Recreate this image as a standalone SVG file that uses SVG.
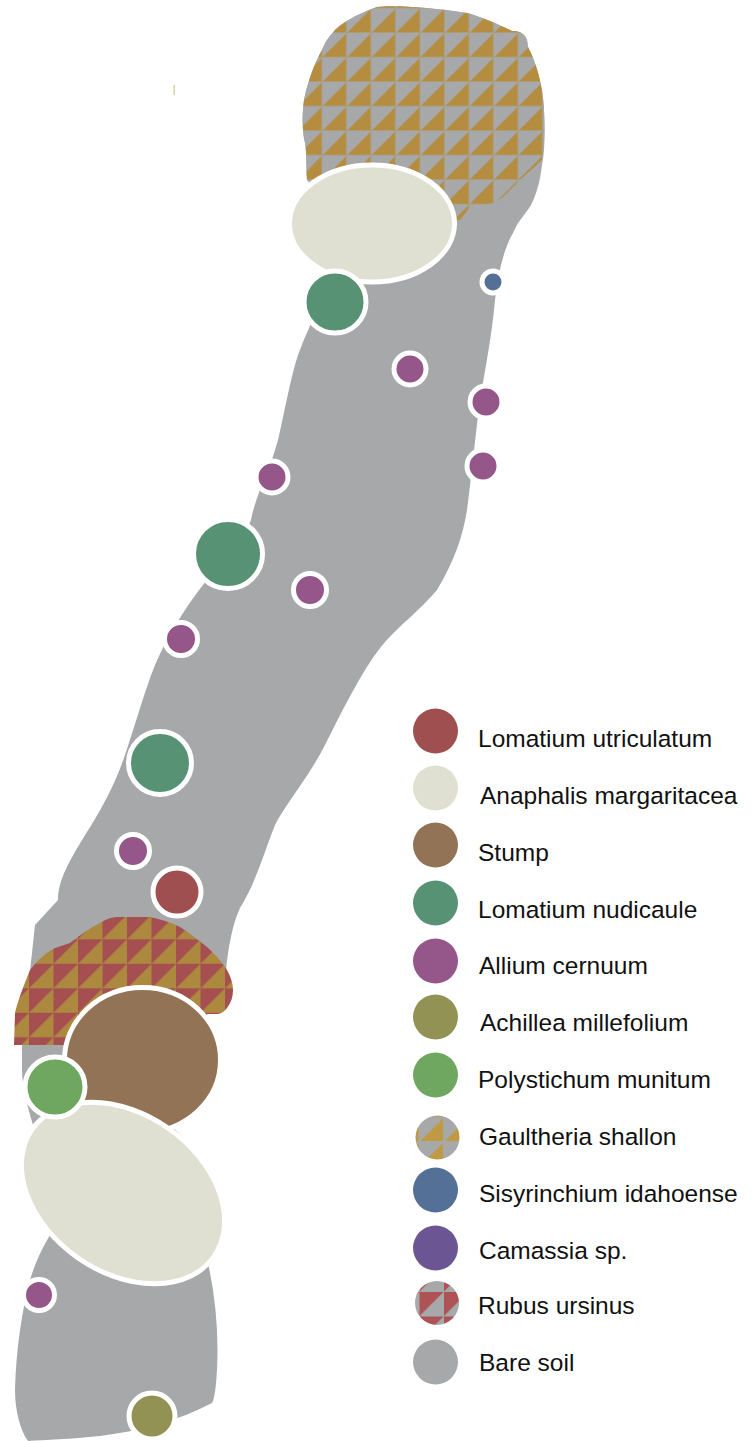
<svg xmlns="http://www.w3.org/2000/svg" width="754" height="1441" viewBox="0 0 754 1441">
<style>
.w{stroke:#fff;stroke-width:5}
.t{font-family:"Liberation Sans",Arial,sans-serif;font-size:24.5px;fill:#111}
.soil{fill:#a6a8aa}.pearly{fill:#dfe0d1}.stump{fill:#937355}.nud{fill:#589274}.all{fill:#955689}.ach{fill:#919254}.pol{fill:#6fa660}.sis{fill:#547096}.cam{fill:#6b5593}.lom{fill:#a04f50}
</style>
<defs>
<pattern id="pg" width="24.5" height="24.5" patternUnits="userSpaceOnUse" x="322.3" y="33">
<rect width="24.5" height="24.5" fill="#a6a8aa"/><path d="M1 23.500L23.500 1V23.500Z" fill="#b48d40"/><path d="M24 0V24.500M0 24H24.500" stroke="#ad9c76" stroke-width="1"/>
</pattern>
<pattern id="pr" width="24.5" height="24.5" patternUnits="userSpaceOnUse" x="29" y="939.3">
<rect width="24.5" height="24.5" fill="#a54f50"/><path d="M0 24.500L24.500 0V24.500Z" fill="#ad883f"/>
</pattern>
<pattern id="lg" width="24.5" height="24.5" patternUnits="userSpaceOnUse" x="444" y="1142">
<rect width="24.5" height="24.5" fill="#a6a8aa"/><path d="M1 23.500L23.500 1V23.500Z" fill="#c09a42"/>
</pattern>
<pattern id="lr" width="24.5" height="24.5" patternUnits="userSpaceOnUse" x="444" y="1292">
<rect width="24.5" height="24.5" fill="#a6a8aa"/><path d="M0 0H24L0 24Z" fill="#ae5355"/>
</pattern>
</defs>
<g id="soil"><path class="soil" d="M377 7C392 5 430 7 467 13C482 17 500 25 512 31C518 31 524 32 527 40L528 47C536 62 543 85 544 110C545 130 545 150 542 165C540 180 538 190 532 203C527 213 518 220 513 233C503 250 498 275 495 300C492 335 485 370 480 400C476 430 470 490 467 510C463 535 455 560 437 590C420 610 400 625 385 642C365 665 345 705 325 745C310 775 285 805 275 825C265 850 255 885 240 908C232 925 228 950 226 970L205 1020L170 1125L182 1136L205 1250C215 1290 219 1330 217 1370C216 1385 215 1398 212 1403C180 1420 140 1431 100 1436C70 1439 45 1440 28 1441C20 1430 15 1410 15 1390C16 1350 22 1310 30 1280C36 1260 44 1245 50 1235L33 1125C27 1105 22 1085 22 1070L22 1045L35 925L58 900C58 880 70 860 85 835C100 812 115 785 125 755C135 725 145 690 155 665C170 630 190 600 215 570C235 545 250 530 252 515C258 490 270 470 278 440C285 410 290 380 298 355C305 335 315 315 325 295L345 265L320 190L307 180C306 165 307 155 305 143C302 130 302 115 304 100C308 80 316 60 322 50C326 40 330 36 335 30C345 20 365 11 377 7Z"/></g>
<g id="gaultheria"><path fill="url(#pg)" d="M377 7C392 5 430 7 467 13C482 17 500 25 512 31C518 31 524 32 527 40L528 47C536 62 543 85 544 110C545 130 544 150 542 160L520 180L503 197L494 203L470 207L460 220L340 220L307 180C306 165 307 155 305 143C302 130 302 115 304 100C308 80 316 60 322 50C326 40 330 36 335 30C345 20 365 11 377 7Z"/></g>
<g id="rubus"><path fill="url(#pr)" d="M14 1045L15 1013C18 1000 24 985 30 970C38 960 45 953 55 948L70 943C80 935 90 928 100 923C106 919 112 917 117 917L150 917C160 919 170 922 180 927C190 933 198 940 207 947C215 954 222 962 227 970C231 977 233 984 233 990C233 997 231 1003 227 1008C224 1012 220 1014 217 1014L207 1014L120 1045Z"/></g>
<g id="stump"><ellipse class="stump w" cx="142.500" cy="1060" rx="78" ry="72.500"/></g>
<g id="anaphalis-top"><ellipse class="pearly w" cx="372" cy="223.500" rx="82.500" ry="58.500"/></g>
<g id="anaphalis-bottom"><ellipse class="pearly w" cx="123" cy="1193" rx="111" ry="79" transform="rotate(35 123 1193)"/></g>
<g id="polystichum"><circle class="pol w" cx="55" cy="1087" r="30"/></g>
<g id="nud1"><circle class="nud w" cx="335" cy="302" r="31"/></g>
<g id="nud2"><circle class="nud w" cx="228" cy="554" r="34.500"/></g>
<g id="nud3"><circle class="nud w" cx="160" cy="763" r="31.500"/></g>
<g id="sis1"><circle class="sis w" cx="493" cy="282" r="11"/></g>
<g id="all1"><circle class="all w" cx="410" cy="369" r="16"/></g>
<g id="all2"><circle class="all w" cx="486" cy="402" r="16"/></g>
<g id="all3"><circle class="all w" cx="483" cy="466" r="16"/></g>
<g id="all4"><circle class="all w" cx="272" cy="477" r="16"/></g>
<g id="all5"><circle class="all w" cx="310" cy="590" r="16.500"/></g>
<g id="all6"><circle class="all w" cx="181" cy="639" r="16.500"/></g>
<g id="all7"><circle class="all w" cx="133" cy="851" r="16.500"/></g>
<g id="all8"><circle class="all w" cx="39" cy="1295" r="15.500"/></g>
<g id="lom1"><circle class="lom w" cx="177" cy="892" r="24"/></g>
<g id="ach1"><circle class="ach w" cx="152" cy="1416" r="23"/></g>
<g id="speck"><rect x="173.500" y="85" width="1.500" height="10" fill="#d8cfa8"/></g>
<g id="legend">
<circle class="lom" cx="435.500" cy="731" r="22.500"/><text class="t" x="478" y="747">Lomatium utriculatum</text>
<circle class="pearly" cx="435.500" cy="788" r="22.500"/><text class="t" x="480" y="804">Anaphalis margaritacea</text>
<circle class="stump" cx="435.500" cy="845" r="22.500"/><text class="t" x="478" y="861">Stump</text>
<circle class="nud" cx="435.500" cy="903" r="22.500"/><text class="t" x="478" y="918">Lomatium nudicaule</text>
<circle class="all" cx="435.500" cy="961" r="22.500"/><text class="t" x="479" y="974">Allium cernuum</text>
<circle class="ach" cx="435.500" cy="1017" r="22.500"/><text class="t" x="480" y="1031">Achillea millefolium</text>
<circle class="pol" cx="435.500" cy="1075" r="22.500"/><text class="t" x="478" y="1088">Polystichum munitum</text>
<circle fill="url(#lg)" cx="437.500" cy="1137.500" r="22"/><text class="t" x="479" y="1145">Gaultheria shallon</text>
<circle class="sis" cx="435.500" cy="1190" r="22.500"/><text class="t" x="479" y="1202">Sisyrinchium idahoense</text>
<circle class="cam" cx="435.500" cy="1248" r="22.500"/><text class="t" x="479" y="1259">Camassia sp.</text>
<circle fill="url(#lr)" cx="437" cy="1303" r="22"/><text class="t" x="478" y="1314">Rubus ursinus</text>
<circle class="soil" cx="435.500" cy="1362" r="22.500"/><text class="t" x="479" y="1371">Bare soil</text>
</g>
</svg>
